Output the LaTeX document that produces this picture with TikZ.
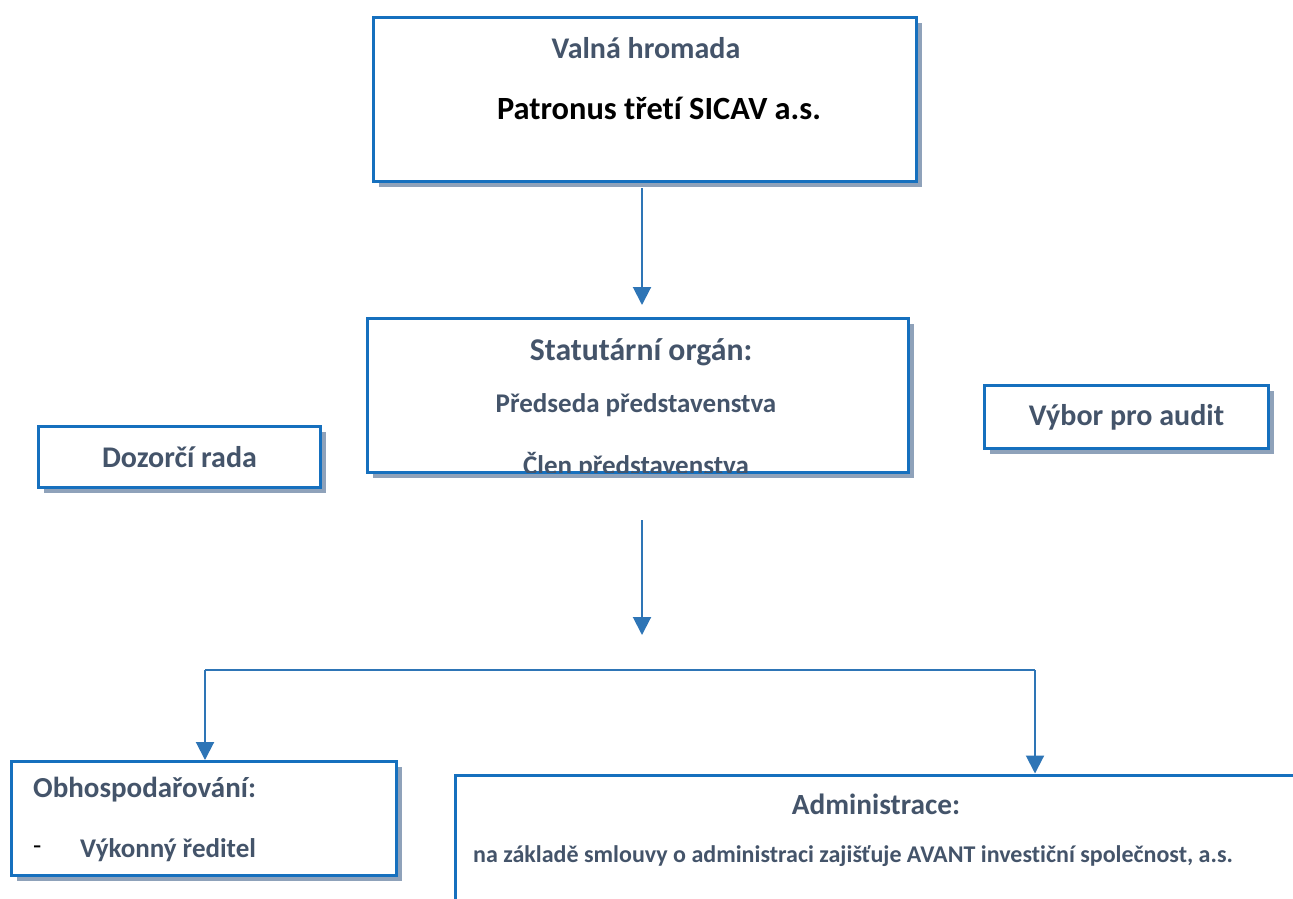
\documentclass[tikz,border=0pt]{standalone}
\usepackage{fontspec}
\setmainfont{Carlito}[Ligatures=NoCommon]
\usetikzlibrary{arrows.meta,positioning,shadows}
\definecolor{boxblue}{RGB}{22,112,190}
\definecolor{arrowblue}{RGB}{46,117,182}
\definecolor{slate}{RGB}{68,84,106}
\definecolor{shadowgray}{RGB}{143,162,186}
\tikzset{
  orgbox/.style={rectangle, draw=boxblue, line width=3pt, fill=white, inner sep=0pt,
    drop shadow={shadow xshift=5pt, shadow yshift=-5pt, fill=shadowgray, opacity=1}},
  flatbox/.style={rectangle, draw=boxblue, line width=3pt, fill=white, inner sep=0pt},
  hd/.style={font=\fontsize{30}{36}\selectfont\bfseries, text=slate, inner sep=0pt},
  sub/.style={font=\fontsize{27}{32}\selectfont\bfseries, text=slate, inner sep=0pt},
  small/.style={font=\fontsize{24}{28}\selectfont\bfseries, text=slate, inner sep=0pt},
  arr/.style={draw=arrowblue, line width=2pt, -{Triangle[width=18pt,length=18pt]}},
  bus/.style={draw=arrowblue, line width=2pt}
}
\begin{document}
\begin{tikzpicture}[x=1pt,y=-1pt]
\clip (0,0) rectangle (1293,898);
% boxes
\node[orgbox, minimum width=543pt, minimum height=164pt] (valna) at (645,99.5) {};
\node[orgbox, minimum width=541pt, minimum height=154pt] (stat) at (638,395.5) {};
\node[orgbox, minimum width=282pt, minimum height=61pt] (dozor) at (179.5,457) {};
\node[orgbox, minimum width=284pt, minimum height=63pt] (audit) at (1126.5,417) {};
\node[orgbox, minimum width=385pt, minimum height=114pt] (obhosp) at (204,818.5) {};
\node[flatbox, anchor=north west, minimum width=880pt, minimum height=170pt] (admin) at (453.5,773.5) {};
% texts
\node[hd] (valnaT) at (646,48) {Valná hromada};
\node[hd, text=black, font=\fontsize{32.4}{38}\selectfont\bfseries] (patron) at (659,108) {Patronus třetí SICAV a.s.};
\node[hd, font=\fontsize{31.7}{38}\selectfont\bfseries] (statT) at (641,352) {Statutární orgán:};
\node[sub] (predseda) at (636,405) {Předseda představenstva};
\begin{scope}
  \clip ([xshift=1.5pt,yshift=1.5pt]stat.south west) rectangle ([xshift=-1.5pt,yshift=-1.5pt]stat.north east);
  \node[sub] (clen) at (636,466) {Člen představenstva};
\end{scope}
\node[hd] (dozorT) at (dozor) {Dozorčí rada};
\node[hd] (auditT) at (audit) {Výbor pro audit};
\node[hd, anchor=west, font=\fontsize{29}{35}\selectfont\bfseries] (obhT) at (33,790) {Obhospodařování:};
\node[sub, text=black, font=\fontsize{27}{32}\selectfont, anchor=west] (dash) at (33,850) {-};
\node[sub, anchor=west] (reditel) at (80,850) {Výkonný ředitel};
\node[hd, font=\fontsize{29.3}{35}\selectfont\bfseries] (adminT) at (876,804) {Administrace:};
\node[small, anchor=west] (adminL) at (473,856) {na základě smlouvy o administraci zajišťuje AVANT investiční společnost, a.s.};
% connectors
\coordinate (midA) at (642,520);
\coordinate (midB) at (642,635);
\coordinate (busL) at (205,670);
\coordinate (busR) at (1035,670);
\draw[arr, shorten <=5pt, shorten >=12pt] (valna.south -| midA) -- (stat.north -| midA);
\draw[arr] (midA) -- (midB);
\draw[bus] (busL) -- (busR);
\draw[arr] (busL) -- (busL |- obhosp.north);
\draw[arr] (busR) -- (busR |- admin.north);
\end{tikzpicture}
\end{document}
